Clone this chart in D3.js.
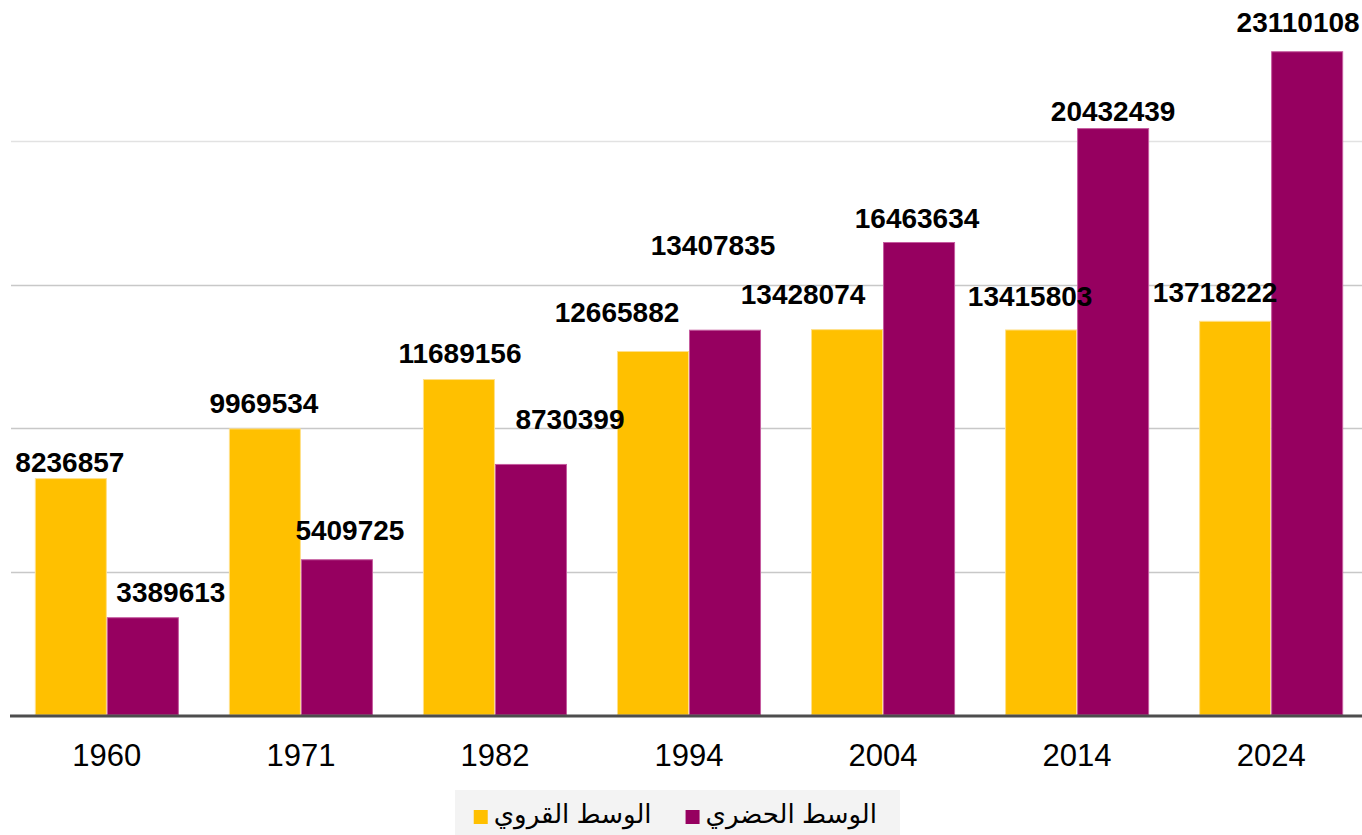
<!DOCTYPE html>
<html>
<head>
<meta charset="utf-8">
<script src="https://cdnjs.cloudflare.com/ajax/libs/d3/7.8.5/d3.min.js"></script>
<style>
  html, body { margin: 0; padding: 0; background: #ffffff; }
  svg { display: block; }
</style>
</head>
<body>
<div id="graph-container"></div>
<script>

/////////////////////////////////////////////////////////////////////////////
                      ///////    Data    ///////
/////////////////////////////////////////////////////////////////////////////

var years = ['1960', '1971', '1982', '1994', '2004', '2014', '2024'];
var rural = [8236857, 9969534, 11689156, 12665882, 13428074, 13415803, 13718222];
var urban = [3389613, 5409725, 8730399, 13407835, 16463634, 20432439, 23110108];
var series_names = ['الوسط القروي', 'الوسط الحضري'];
var grid_ticks = [5000000, 10000000, 15000000, 20000000];

/////////////////////////////////////////////////////////////////////////////
                      ///////    Variables    ///////
/////////////////////////////////////////////////////////////////////////////

var w = 1362;
var h = 835;

var rural_color = '#ffc000';
var urban_color = '#960060';
var colors = [rural_color, urban_color];
var edge_colors = ['#ffe08a', '#c55b9f'];

var font = '"Liberation Sans", Arial, "DejaVu Sans", sans-serif';

// the value labels dodge each other, so each one gets a nudge [dx, gap above bar]
var label_nudge = [
    [[-1, 7], [-1, 16], [1, 17], [-36, 29], [-44, 26], [-11, 24], [-20, 19]],
    [[28, 16], [13, 20], [39, 35], [-12, 75], [-2, 14], [0, 8], [-9, 20]]
];

/////////////////////////////////////////////////////////////////////////////
                      ///////    Set Up Chart    ///////
/////////////////////////////////////////////////////////////////////////////

var svg = d3.select('#graph-container').append('svg')
            .attr('width', w)
            .attr('height', h);

var x = d3.scaleBand().domain(years).range([10, 1368]).paddingInner(0.2577).paddingOuter(0.128);
var x_inner = d3.scaleBand().domain([0, 1]).range([0, x.bandwidth()]);
var y = d3.scaleLinear().domain([0, 20000000]).range([715, 141]);

// grid lines
svg.append('g')
   .selectAll('line').data(grid_ticks).enter()
   .append('line')
   .attr('x1', 11)
   .attr('x2', w)
   .attr('y1', d => Math.round(y(d)) + 0.5)
   .attr('y2', d => Math.round(y(d)) + 0.5)
   .style('stroke', (d, i) => i == grid_ticks.length - 1 ? '#e2e2e2' : '#c8c8c8')
   .style('stroke-width', 1.5);

var data = years.map((year, i) => ({'year': year, 'levels': [rural[i], urban[i]]}));

var bar_layer = svg.append('g');
var label_layer = svg.append('g');

bar_layer.selectAll('.group').data(data).enter()
    .append('g')
    .attr('class', 'group')
    .attr('transform', d => `translate(${x(d.year)},0)`)
    .selectAll('.bar').data(d => d.levels).enter()
        .append('rect')
        .attr('class', 'bar')
        .attr('x', (d, i) => x_inner(i) + 0.5)
        .attr('width', x_inner.bandwidth() - 1)
        .attr('y', d => y(d))
        .attr('height', d => y(0) - y(d))
        .style('fill', (d, i) => colors[i])
        .style('stroke', (d, i) => edge_colors[i])
        .style('stroke-width', 1);

// value labels, drawn on top of every bar
label_layer.selectAll('.group').data(data).enter()
    .append('g')
    .attr('class', 'group')
    .attr('transform', d => `translate(${x(d.year)},0)`)
    .each(function(d, gi) {
        d3.select(this).selectAll('.value').data(d.levels).enter()
          .append('text')
          .attr('class', 'value')
          .attr('font-family', font)
          .attr('font-size', '28px')
          .attr('font-weight', 'bold')
          .style('text-anchor', 'middle')
          .attr('x', (v, i) => x_inner(i) + x_inner.bandwidth() / 2 + label_nudge[i][gi][0])
          .attr('y', (v, i) => y(v) - label_nudge[i][gi][1])
          .text(v => v);
    });

// baseline
svg.append('line')
   .attr('x1', 10)
   .attr('x2', w)
   .attr('y1', y(0) + 1)
   .attr('y2', y(0) + 1)
   .style('stroke', '#4d4d4d')
   .style('stroke-width', 3);

// category labels
var x_axis = d3.axisBottom(x).tickSize(0).tickPadding(0);
var axis_g = svg.append('g').attr('transform', `translate(0,${y(0)})`).call(x_axis);
axis_g.select('.domain').remove();
axis_g.selectAll('text')
      .attr('font-family', font)
      .attr('font-size', '31px')
      .attr('fill', '#000')
      .attr('dy', null)
      .attr('y', 51);

/////////////////////////////////////////////////////////////////////////////
                      ///////    Legend    ///////
/////////////////////////////////////////////////////////////////////////////

var legend = svg.append('g').attr('class', 'legend');

legend.append('rect')
      .attr('x', 455)
      .attr('y', 790)
      .attr('width', 445)
      .attr('height', 45)
      .style('fill', '#f3f3f3');

var swatch = 14;
var right_edge = 877;
// right to left: urban first, then rural
[1, 0].forEach(function(si) {
    var t = legend.append('text')
                  .attr('font-family', font)
                  .attr('font-size', '26px')
                  .attr('fill', '#000')
                  .style('text-anchor', 'end')
                  .attr('x', right_edge)
                  .attr('y', 823)
                  .text(series_names[si]);
    var tw = t.node().getComputedTextLength();
    var sx = right_edge - tw - 6 - swatch;
    legend.append('rect')
          .attr('x', sx)
          .attr('y', 810)
          .attr('width', swatch)
          .attr('height', swatch)
          .style('fill', colors[si]);
    right_edge = sx - 34;
});

</script>
</body>
</html>
